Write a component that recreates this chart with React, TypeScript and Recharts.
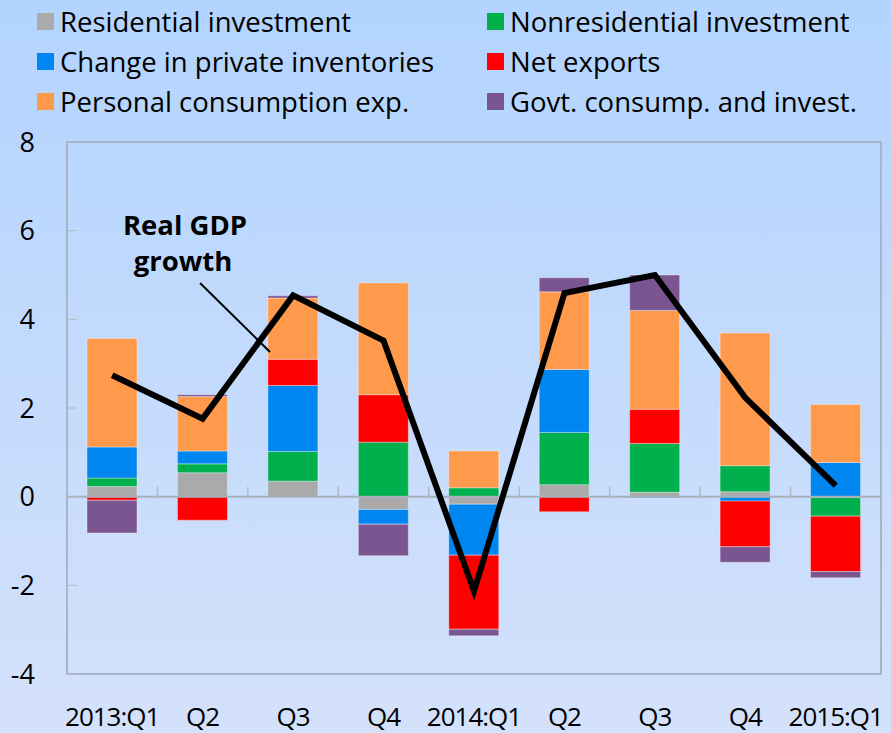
import {
  Bar,
  ComposedChart,
  Line,
  ReferenceArea,
  ReferenceLine,
  XAxis,
  YAxis,
} from 'recharts';

const quarters = ['2013:Q1', 'Q2', 'Q3', 'Q4', '2014:Q1', 'Q2', 'Q3', 'Q4', '2015:Q1'];
const residential = [0.23, 0.54, 0.35, -0.29, -0.17, 0.27, 0.1, 0.11, -0.02];
const nonresidential = [0.19, 0.2, 0.67, 1.23, 0.2, 1.18, 1.1, 0.59, -0.42];
const inventories = [0.7, 0.29, 1.49, -0.33, -1.15, 1.42, -0.03, -0.1, 0.77];
const netExports = [-0.08, -0.53, 0.59, 1.07, -1.67, -0.34, 0.77, -1.03, -1.25];
const consumption = [2.45, 1.23, 1.38, 2.52, 0.83, 1.75, 2.23, 2.99, 1.31];
const government = [-0.74, 0.04, 0.05, -0.71, -0.15, 0.32, 0.8, -0.35, -0.14];
const realGdp = [2.74, 1.76, 4.54, 3.52, -2.13, 4.59, 5.0, 2.23, 0.25];
const yTicks = [-4, -2, 0, 2, 4, 6, 8];

const series = [
  { key: 'residential', label: 'Residential investment', color: '#aaaaaa' },
  { key: 'nonresidential', label: 'Nonresidential investment', color: '#00b04c' },
  { key: 'inventories', label: 'Change in private inventories', color: '#0086f0' },
  { key: 'netExports', label: 'Net exports', color: '#ff0000' },
  { key: 'consumption', label: 'Personal consumption exp.', color: '#ff9a4c' },
  { key: 'government', label: 'Govt. consump. and invest.', color: '#7b558f' },
];

const data = quarters.map((quarter, i) => ({
  quarter,
  residential: residential[i],
  nonresidential: nonresidential[i],
  inventories: inventories[i],
  netExports: netExports[i],
  consumption: consumption[i],
  government: government[i],
  gdp: realGdp[i],
}));

const FONT = '"Open Sans", sans-serif';
const W = 891;
const H = 733;
const MARGIN = { top: 142, right: 10, left: 0, bottom: 0 };
const Y_AXIS_W = 67;
const X_AXIS_H = 59;
const Y_MIN = -4;
const Y_MAX = 8;

// plot geometry, used only for the small zero-line tick marks and annotation
const plotLeft = MARGIN.left + Y_AXIS_W;
const plotRight = W - MARGIN.right;
const plotTop = MARGIN.top;
const plotBottom = H - MARGIN.bottom - X_AXIS_H;
const bandW = (plotRight - plotLeft) / quarters.length;
const zeroY = plotTop + ((Y_MAX - 0) / (Y_MAX - Y_MIN)) * (plotBottom - plotTop);

const LegendBlock = () => (
  <div
    style={{
      position: 'absolute',
      left: 37,
      top: 1,
      display: 'grid',
      gridTemplateColumns: '450px 400px',
      fontFamily: FONT,
      fontSize: 27.5,
      color: '#000',
    }}
  >
    {series.map((s) => (
      <div key={s.key} style={{ display: 'flex', alignItems: 'center', height: 40 }}>
        <span style={{ width: 17, height: 17, background: s.color, marginRight: 6, flex: 'none' }} />
        <span style={{ whiteSpace: 'nowrap' }}>{s.label}</span>
      </div>
    ))}
  </div>
);

export default function App() {
  return (
    <div
      style={{
        position: 'relative',
        width: W,
        height: H,
        background: 'linear-gradient(to bottom, #b2d4fe, #d4e1fb)',
        overflow: 'hidden',
      }}
    >
      <style>{'body{margin:0}'}</style>
      <LegendBlock />
      <ComposedChart
        width={W}
        height={H}
        data={data}
        stackOffset="sign"
        barSize={50}
        margin={MARGIN}
        style={{ position: 'absolute', left: 0, top: 0 }}
      >
        <ReferenceArea y1={Y_MIN} y2={Y_MAX} fill="none" stroke="#a8b4c8" strokeWidth={2} />
        <XAxis
          dataKey="quarter"
          height={X_AXIS_H}
          axisLine={false}
          tickLine={false}
          tickSize={6}
          tickMargin={28}
          interval={0}
          tick={{ fontSize: 26, fill: '#000', fontFamily: FONT, letterSpacing: -1 }}
        />
        <YAxis
          domain={[Y_MIN, Y_MAX]}
          ticks={yTicks}
          width={Y_AXIS_W}
          axisLine={false}
          tickSize={-10}
          tickMargin={42}
          tickLine={{ stroke: '#b0b8c4' }}
          tick={{ fontSize: 27, fill: '#000', fontFamily: FONT }}
        />
        <ReferenceLine y={0} stroke="#a8b0bc" strokeWidth={2} />
        {series.map((s) => (
          <Bar
            key={s.key}
            dataKey={s.key}
            stackId="gdp"
            fill={s.color}
            stroke="rgba(255,255,255,0.35)"
            strokeWidth={1}
            isAnimationActive={false}
          />
        ))}
        <Line
          type="linear"
          dataKey="gdp"
          stroke="#000"
          strokeWidth={6}
          dot={false}
          isAnimationActive={false}
        />
      </ComposedChart>
      <svg
        width={W}
        height={H}
        style={{ position: 'absolute', left: 0, top: 0, pointerEvents: 'none' }}
      >
        {quarters.slice(1).map((q, i) => (
          <line
            key={`t${i}`}
            x1={plotLeft + bandW * (i + 1)}
            x2={plotLeft + bandW * (i + 1)}
            y1={zeroY}
            y2={zeroY - 10}
            stroke="#b0b8c4"
            strokeWidth={1.5}
          />
        ))}
        <text x={185} y={235} textAnchor="middle" fontFamily={FONT} fontWeight="bold" fontSize={27.5}>
          Real GDP
        </text>
        <text x={183} y={271} textAnchor="middle" fontFamily={FONT} fontWeight="bold" fontSize={27.5}>
          growth
        </text>
        <line x1={200} y1={283} x2={270} y2={352} stroke="#000" strokeWidth={2} />
      </svg>
    </div>
  );
}
